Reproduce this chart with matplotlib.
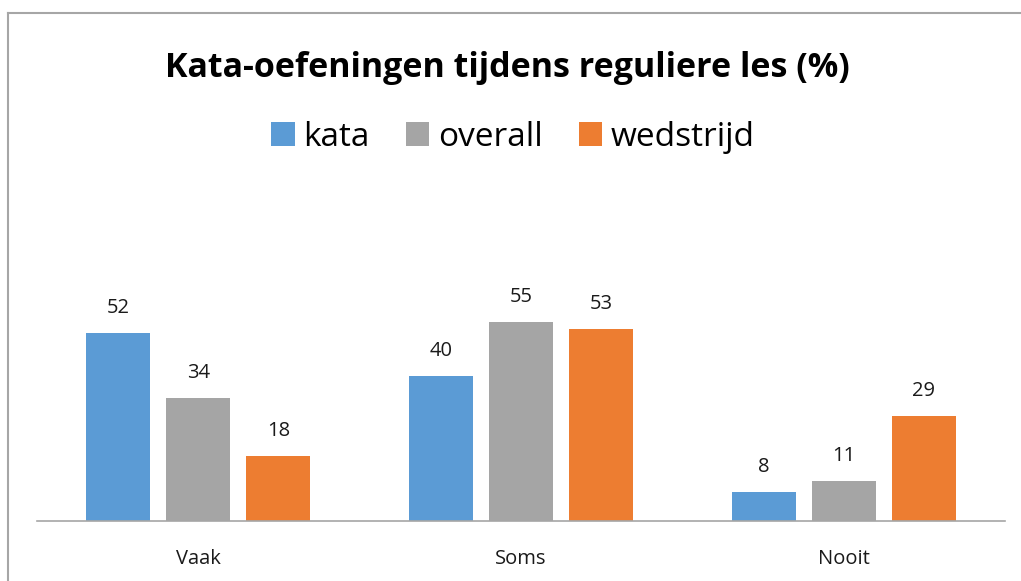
import numpy as np
import matplotlib.pyplot as plt
from matplotlib.lines import Line2D
from matplotlib.patches import Patch

categories = ["Vaak", "Soms", "Nooit"]
series_names = ["kata", "overall", "wedstrijd"]
kata = [52, 40, 8]
overall = [34, 55, 11]
wedstrijd = [18, 53, 29]
colors = ["#5B9BD5", "#A5A5A5", "#ED7D31"]

W, H = 1021, 581
fig = plt.figure(figsize=(W / 100, H / 100), dpi=100)
plt.rcParams["font.family"] = ["Open Sans", "DejaVu Sans"]

# plot area in pixel coords: x 37..1005, baseline at y=521, top (60%) at y=304
ax = fig.add_axes([37 / W, (H - 521) / H, (1005 - 37) / W, (521 - 304) / H])

x = np.arange(len(categories))
width = 0.198
offset = 0.248
for i, (name, vals) in enumerate(zip(series_names, [kata, overall, wedstrijd])):
    pos = x + (i - 1) * offset
    ax.bar(pos, vals, width, color=colors[i], label=name)
    for p, v in zip(pos, vals):
        ax.text(p, v + 4.2, str(v), ha="center", va="bottom", fontsize=14.5,
                color="#1a1a1a")

ax.set_xlim(-0.5, 2.5)
ax.set_ylim(0, 60)
ax.set_yticks([])
ax.set_xticks(x)
ax.set_xticklabels(categories, fontsize=14.5, color="#1a1a1a")
ax.tick_params(axis="x", length=0, pad=20)
for s in ["top", "right", "left"]:
    ax.spines[s].set_visible(False)
ax.spines["bottom"].set_color("#A6A6A6")
ax.spines["bottom"].set_linewidth(1.2)

fig.text(507 / W, 1 - 68 / H, "Kata-oefeningen tijdens reguliere les (%)",
         ha="center", va="center", fontsize=24.5, fontweight="bold", color="black")

handles = [Patch(facecolor=c) for c in colors]
fig.legend(handles, series_names, loc="center", bbox_to_anchor=(513 / W, 1 - 137 / H),
           ncol=3, frameon=False, fontsize=24, handlelength=0.7, handleheight=0.7,
           handletextpad=0.25, columnspacing=1.1)

# outer chart border (top and left visible)
fig.add_artist(Line2D([8 / W, 1.0], [1 - 13 / H, 1 - 13 / H], color="#A6A6A6", lw=1.5))
fig.add_artist(Line2D([8 / W, 8 / W], [0.0, 1 - 13 / H], color="#A6A6A6", lw=1.5))

fig.savefig("out.png", dpi=100)
